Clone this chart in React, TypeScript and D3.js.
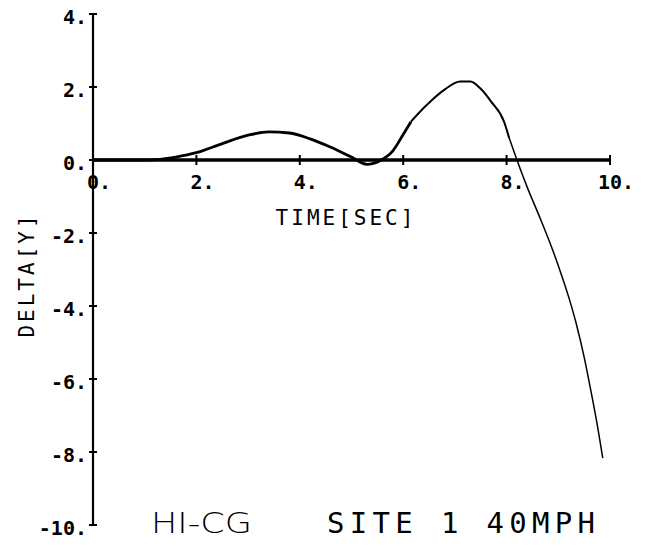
import React from "react";
import * as d3 from "d3";

const timeSec = [0, 0.5, 1.0, 1.3, 1.6, 2.0, 2.5, 3.0, 3.4, 3.8, 4.2, 4.6, 5.0, 5.3, 5.55, 5.8, 6.0, 6.15, 6.4, 6.8, 7.1, 7.3, 7.5, 7.7, 7.95, 8.05, 8.2, 8.4, 8.65, 8.9, 9.05, 9.2, 9.35, 9.5, 9.62, 9.74, 9.86];
const deltaY = [0, 0, 0, 0.02, 0.08, 0.2, 0.45, 0.68, 0.77, 0.74, 0.58, 0.35, 0.08, -0.12, -0.02, 0.25, 0.7, 1.05, 1.43, 1.93, 2.15, 2.15, 1.95, 1.6, 1.05, 0.6, 0.0, -0.75, -1.6, -2.5, -3.1, -3.75, -4.5, -5.4, -6.25, -7.15, -8.17];
const xTicks = [0, 2, 4, 6, 8, 10];
const yTicks = [4, 2, 0, -2, -4, -6, -8, -10];
const xLabel = "TIME[SEC]";
const yLabel = "DELTA[Y]";
const noteLeft = "HI-CG";
const noteRight = "SITE 1 40MPH";

export default function App() {
  const W = 649, H = 546;
  const x = d3.scaleLinear().domain([0, 10]).range([93, 610]);
  const y = d3.scaleLinear().domain([-10, 4]).range([525, 14]);
  const pts = timeSec.map((t, i) => [t, deltaY[i]] as [number, number]);
  const line = d3.line<[number, number]>().x(d => x(d[0])).y(d => y(d[1])).curve(d3.curveMonotoneX);
  const seg1 = pts.filter(p => p[0] <= 6.15);
  const seg2 = pts.filter(p => p[0] >= 6.15 && p[0] <= 8.05);
  const seg3 = pts.filter(p => p[0] >= 8.05);
  const tickFont = "'DejaVu Sans Mono', monospace";
  const fs = 20;
  const fmt = (v: number) => `${v}.`;
  const charW = fs * 0.602;
  return (
    <svg width={W} height={H} style={{ position: "absolute", left: 0, top: 0, background: "#fff" }}>
      <rect x={0} y={0} width={W} height={H} fill="#fff" />
      {/* y axis */}
      <line x1={x(0)} x2={x(0)} y1={y(4)} y2={y(-10)} stroke="#000" strokeWidth={2.2} />
      {yTicks.map(v => (
        <g key={"yt" + v}>
          <line x1={x(0) - 4} x2={x(0) + 4} y1={y(v)} y2={y(v)} stroke="#000" strokeWidth={2} />
          <text x={87} y={y(v) + 10} textAnchor="end" fontFamily={tickFont} fontWeight="bold" fontSize={fs} fill="#000">{fmt(v)}</text>
        </g>
      ))}
      {/* x axis */}
      <line x1={x(0)} x2={x(10)} y1={y(0)} y2={y(0)} stroke="#000" strokeWidth={3.5} />
      {xTicks.filter(v => v > 0).map(v => (
        <line key={"xtl" + v} x1={x(v)} x2={x(v)} y1={y(0) - 5} y2={y(0) + 5} stroke="#000" strokeWidth={2} />
      ))}
      {xTicks.map(v => {
        const digits = String(v).length;
        return (
          <text key={"xt" + v} x={x(v) - (digits * charW) / 2} y={y(0) + 29} textAnchor="start" fontFamily={tickFont} fontWeight="bold" fontSize={fs} fill="#000">{fmt(v)}</text>
        );
      })}
      {/* data line */}
      <path d={line(seg1) || ""} fill="none" stroke="#000" strokeWidth={2.8} />
      <path d={line(seg2) || ""} fill="none" stroke="#000" strokeWidth={2} />
      <path d={line(seg3) || ""} fill="none" stroke="#000" strokeWidth={1.5} />
      {/* axis titles */}
      <text x={346} y={225} textAnchor="middle" fontFamily={tickFont} fontSize={21} letterSpacing={3} fill="#000">{xLabel}</text>
      <text transform={`translate(34,275) rotate(-90)`} textAnchor="middle" fontFamily={tickFont} fontSize={21} letterSpacing={3} fill="#000">{yLabel}</text>
      {/* notes */}
      <text x={151} y={533} fontFamily="'DejaVu Sans', sans-serif" fontSize={29} fontWeight={300} textLength={101} lengthAdjust="spacingAndGlyphs" fill="#000">{noteLeft}</text>
      <text x={327} y={533} fontFamily={tickFont} fontSize={29} fontWeight={300} textLength={268} lengthAdjust="spacing" fill="#000">{noteRight}</text>
    </svg>
  );
}
